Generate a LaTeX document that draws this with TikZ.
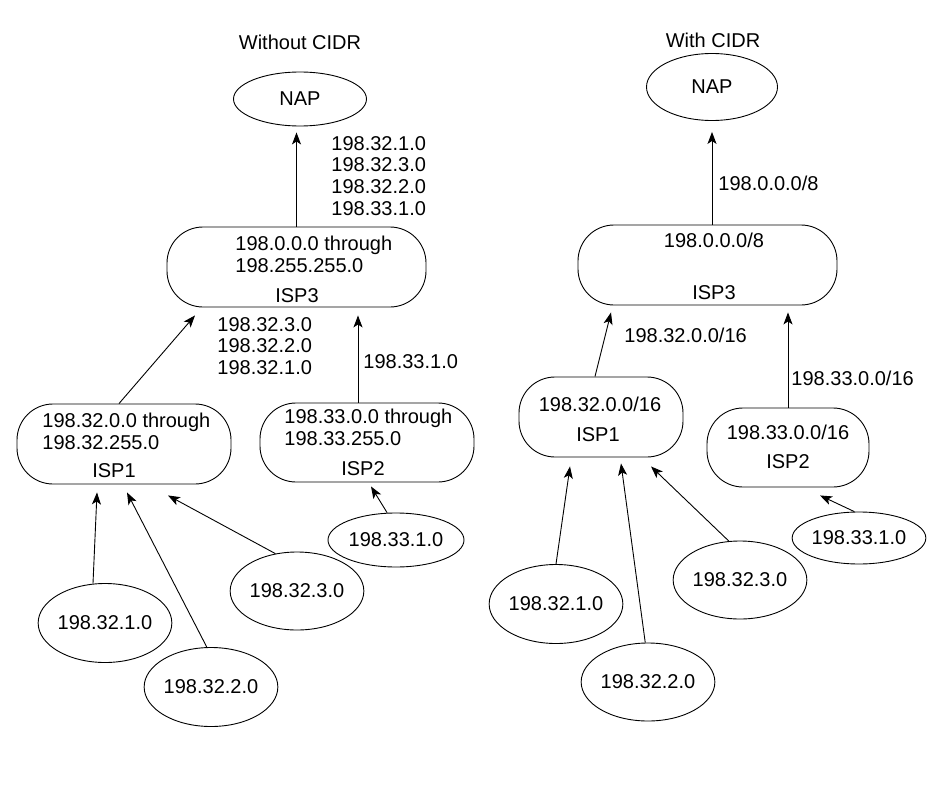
\documentclass[tikz,border=0pt]{standalone}
\usepackage{fontspec}
\setmainfont{Liberation Sans}
\usetikzlibrary{shapes.geometric,arrows.meta}
\begin{document}
\begin{tikzpicture}[x=1pt,y=-1pt,line width=0.9pt,
  every node/.style={font=\fontsize{20}{21.8}\selectfont,inner sep=0pt},
  net/.style={draw,ellipse,minimum width=116pt,minimum height=79pt},
  isp/.style={draw,rectangle,rounded corners=36pt,minimum height=80pt},
  txt/.style={anchor=west,align=left},
  arr/.style={-{Stealth[length=12pt,width=9pt,inset=3pt]}}]
  \useasboundingbox (0,0) rectangle (939,789);
  \begin{scope}
    \node (titlel) at (300,42) {Without CIDR};
    \node[draw,ellipse,minimum width=133pt,minimum height=54pt] (napl) at (300,99) {NAP};
    \node[isp,minimum width=259pt] (ispthreel) at (296.5,267) {};
    \node[txt] (ispthreeltxt) at (235,254) {198.0.0.0 through\\198.255.255.0};
    \node (ispthreelname) at (297,296) {ISP3};
    \node[isp,minimum width=214pt] (isponel) at (124,444) {};
    \node[txt] (isponeltxt) at (42,431) {198.32.0.0 through\\198.32.255.0};
    \node (isponelname) at (114,471) {ISP1};
    \node[isp,minimum width=214pt,minimum height=79pt] (isptwol) at (367,442.5) {};
    \node[txt] (isptwoltxt) at (284,427.5) {198.33.0.0 through\\198.33.255.0};
    \node (isptwolname) at (363,469) {ISP2};
    \node[net] (aonel) at (105,623) {198.32.1.0};
    \node[net] (atwol) at (211,687) {198.32.2.0};
    \node[net,minimum height=78pt] (athreel) at (297,591) {198.32.3.0};
    \node[net,minimum width=136pt,minimum height=54pt] (bonel) at (396,540) {198.33.1.0};
    \node[txt] (upl) at (331,176) {198.32.1.0\\198.32.3.0\\198.32.2.0\\198.33.1.0};
    \node[txt] (fromonel) at (217,346) {198.32.3.0\\198.32.2.0\\198.32.1.0};
    \node[txt] (fromtwol) at (363,362) {198.33.1.0};
    \draw[arr,shorten >=6pt] (ispthreel.north) -- (ispthreel.north |- napl.south);
    \draw[arr] ([xshift=-5pt]isponel.north) -- ([shift={(-101.5,8)}]ispthreel.south);
    \draw[arr] ([xshift=-9pt]isptwol.north) -- ([shift={(61.5,8)}]ispthreel.south);
    \draw[arr] (aonel.107) -- ([shift={(-27,8)}]isponel.south);
    \draw[arr] (atwol.96) -- ([shift={(3,8)}]isponel.south);
    \draw[arr] (athreel.120) -- ([shift={(44,11)}]isponel.south);
    \draw[arr] (bonel.108) -- ([shift={(4,4)}]isptwol.south);
  \end{scope}
  \begin{scope}
    \node (titler) at (713,40) {With CIDR};
    \node[draw,ellipse,minimum width=131pt,minimum height=67pt] (napr) at (712,87) {NAP};
    \node[isp,minimum width=259pt] (ispthreer) at (707.5,265) {};
    \node (ispthreertxt) at (714,240) {198.0.0.0/8};
    \node (ispthreername) at (714,293) {ISP3};
    \node[isp,minimum width=164pt] (isponer) at (601,417) {};
    \node (isponertxt) at (600,404) {198.32.0.0/16};
    \node (isponername) at (598,435) {ISP1};
    \node[isp,minimum width=162pt,minimum height=79pt] (isptwor) at (788,447.5) {};
    \node (isptwortxt) at (788,432) {198.33.0.0/16};
    \node (isptworname) at (788,462) {ISP2};
    \node[net] (aoner) at (556,604) {198.32.1.0};
    \node[net,minimum width=115pt,minimum height=78pt] (atwor) at (648,682) {198.32.2.0};
    \node[net,minimum width=115pt,minimum height=78pt] (athreer) at (740,580) {198.32.3.0};
    \node[net,minimum width=132pt,minimum height=52pt] (boner) at (859,538) {198.33.1.0};
    \node[txt] (upr) at (718,183) {198.0.0.0/8};
    \node[txt] (fromoner) at (624,335) {198.32.0.0/16};
    \node[txt] (fromtwor) at (791,378) {198.33.0.0/16};
    \draw[arr,shorten >=11pt] (napr.south |- ispthreer.north) -- (napr.south);
    \draw[arr] ([xshift=-6pt]isponer.north) -- ([shift={(-96.5,7)}]ispthreer.south);
    \draw[arr] (isptwor.north) -- ([shift={(80.5,7)}]ispthreer.south);
    \draw[arr] (aoner.north) -- ([shift={(-31,9)}]isponer.south);
    \draw[arr] (atwor.94) -- ([shift={(20,6)}]isponer.south);
    \draw[arr] (athreer.106) -- ([shift={(50,9)}]isponer.south);
    \draw[arr] (boner.100) -- ([shift={(32,8)}]isptwor.south);
  \end{scope}
\end{tikzpicture}
\end{document}
